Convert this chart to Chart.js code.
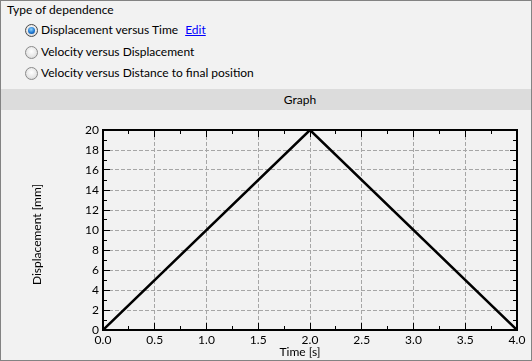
<!DOCTYPE html>
<html><head><meta charset="utf-8">
<script src="https://cdn.jsdelivr.net/npm/chart.js@4.4.1/dist/chart.umd.min.js"></script>
<style>
html,body{margin:0;padding:0;background:#f2f2f2;}
body{width:532px;height:361px;position:relative;overflow:hidden;font-family:'Lato',sans-serif;font-size:12px;color:#000;}
.frame{position:absolute;left:0;top:0;width:532px;height:361px;box-sizing:border-box;border:1px solid #838383;pointer-events:none;z-index:5;}
.t{position:absolute;white-space:nowrap;line-height:16px;}
.bar{position:absolute;left:0;top:89px;width:532px;height:21px;background:#dcdcdc;}
.radio{position:absolute;width:11px;height:11px;border-radius:50%;border:1px solid #8a8a8a;background:radial-gradient(circle at 50% 40%,#ffffff 0%,#e6e6e6 60%,#c9c9c9 100%);}
.radio.on{border-color:#4a4a4a;}
.radio.on::after{content:'';position:absolute;left:2px;top:2px;width:7px;height:7px;border-radius:50%;background:radial-gradient(circle at 45% 35%,#8fd4ff 0%,#1f78d0 55%,#0b3a80 100%);}
a{color:#0000ff;text-decoration:underline;}
canvas{position:absolute;left:0;top:111px;}
</style></head>
<body>
<div class="t" style="left:7px;top:2px">Type of dependence</div>
<div class="radio on" style="left:25px;top:24px"></div>
<div class="t" style="left:41px;top:22px">Displacement versus Time <a style="margin-left:4px">Edit</a></div>
<div class="radio" style="left:25px;top:46px"></div>
<div class="t" style="left:41px;top:43.5px">Velocity versus Displacement</div>
<div class="radio" style="left:25px;top:67px"></div>
<div class="t" style="left:41px;top:64.5px">Velocity versus Distance to final position</div>
<div class="bar"></div>
<div class="t" style="left:0;width:600px;text-align:center;top:92px">Graph</div>
<canvas id="c" width="532" height="248"></canvas>
<div class="frame"></div>
<script>
const timeValues = [0, 2, 4];
const displacementValues = [0, 20, 0];
const xTickValues = [0, 0.5, 1, 1.5, 2, 2.5, 3, 3.5, 4];
const xTickLabels = ['0.0','0.5','1.0','1.5','2.0','2.5','3.0','3.5','4.0'];
const yTickValues = [0, 2, 4, 6, 8, 10, 12, 14, 16, 18, 20];
const yTickLabels = ['0','2','4','6','8','10','12','14','16','18','20'];
const xAxisTitle = 'Time [s]';
const yAxisTitle = 'Displacement [mm]';

const FONT = "'Lato'";

const axisDecor = {
  id: 'axisDecor',
  afterDraw(chart) {
    const ctx = chart.ctx, a = chart.chartArea;
    const xs = chart.scales.x, ys = chart.scales.y;
    ctx.save();
    ctx.strokeStyle = '#000';
    ctx.lineWidth = 1;
    ctx.beginPath();
    for (let i = 0; i < xTickValues.length - 1; i++) {
      const v0 = xTickValues[i], v1 = xTickValues[i + 1];
      const pm = Math.floor(xs.getPixelForValue((v0 + v1) / 2)) + 0.5;
      ctx.moveTo(pm, a.bottom); ctx.lineTo(pm, a.bottom - 4);
      ctx.moveTo(pm, a.top); ctx.lineTo(pm, a.top + 4);
      if (i > 0) {
        const p = Math.floor(xs.getPixelForValue(v0)) + 0.5;
        ctx.moveTo(p, a.bottom); ctx.lineTo(p, a.bottom - 7);
        ctx.moveTo(p, a.top); ctx.lineTo(p, a.top + 7);
      }
    }
    for (let i = 0; i < yTickValues.length - 1; i++) {
      const v0 = yTickValues[i], v1 = yTickValues[i + 1];
      const pm = Math.floor(ys.getPixelForValue((v0 + v1) / 2)) + 0.5;
      ctx.moveTo(a.left, pm); ctx.lineTo(a.left + 4, pm);
      ctx.moveTo(a.right, pm); ctx.lineTo(a.right - 4, pm);
      if (i > 0) {
        const p = Math.floor(ys.getPixelForValue(v0)) + 0.5;
        ctx.moveTo(a.left, p); ctx.lineTo(a.left + 7, p);
        ctx.moveTo(a.right, p); ctx.lineTo(a.right - 7, p);
      }
    }
    ctx.stroke();
    ctx.lineWidth = 2;
    ctx.strokeRect(a.left, a.top, a.right - a.left, a.bottom - a.top);
    ctx.fillStyle = '#000';
    ctx.font = '12px ' + FONT;
    ctx.textAlign = 'center';
    ctx.textBaseline = 'middle';
    ctx.fillText(xAxisTitle, 300, 241.5);
    ctx.translate(37.5, 123.5);
    ctx.rotate(-Math.PI / 2);
    ctx.fillText(yAxisTitle, 0, 0);
    ctx.restore();
  }
};

const gridColor = (ctx) => {
  const t = ctx.tick;
  if (!t) return 'rgba(0,0,0,0)';
  const s = ctx.scale;
  return (t.value === s.min || t.value === s.max) ? 'rgba(0,0,0,0)' : '#a6a6a6';
};

new Chart(document.getElementById('c'), {
  type: 'line',
  data: {
    datasets: [{
      data: timeValues.map((t, i) => ({ x: t, y: displacementValues[i] })),
      borderColor: '#000',
      borderWidth: 2.5,
      pointRadius: 0,
      tension: 0,
      fill: false
    }]
  },
  options: {
    responsive: false,
    animation: false,
    events: [],
    layout: { padding: { top: 19, right: 15, bottom: 0, left: 0 } },
    plugins: { legend: { display: false }, tooltip: { enabled: false } },
    scales: {
      x: {
        type: 'linear', min: 0, max: 4,
        afterBuildTicks: s => { s.ticks = xTickValues.map(v => ({ value: v })); },
        afterFit: s => { s.height = 29; },
        grid: { drawTicks: false, color: gridColor, lineWidth: 1 },
        border: { display: false, dash: [4, 2] },
        ticks: {
          autoSkip: false, maxRotation: 0, padding: 3, color: '#000',
          font: { family: FONT, size: 12 },
          callback: (v, i) => xTickLabels[i]
        }
      },
      y: {
        type: 'linear', min: 0, max: 20,
        afterBuildTicks: s => { s.ticks = yTickValues.map(v => ({ value: v })); },
        afterFit: s => { s.width = 103; },
        grid: { drawTicks: false, color: gridColor, lineWidth: 1 },
        border: { display: false, dash: [4, 2] },
        ticks: {
          autoSkip: false, padding: 4, color: '#000',
          font: { family: FONT, size: 12 },
          callback: (v, i) => yTickLabels[i]
        }
      }
    }
  },
  plugins: [axisDecor]
});
</script>
</body></html>
